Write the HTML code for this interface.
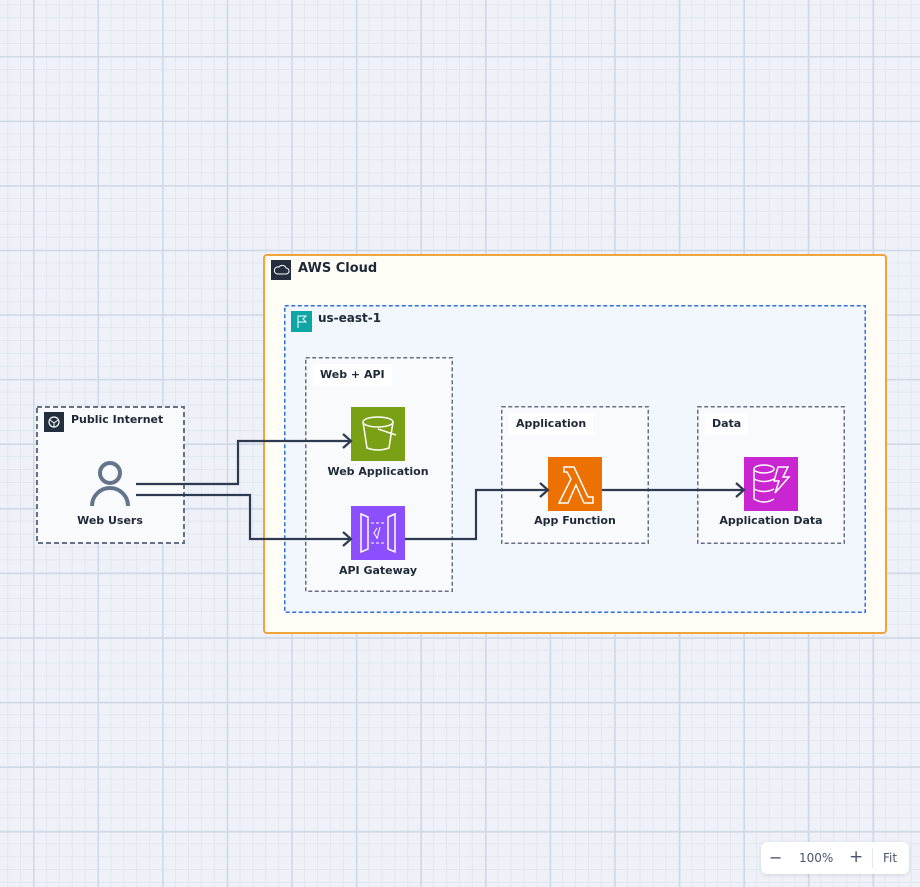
<!DOCTYPE html>
<html><head><meta charset="utf-8"><style>
*{margin:0;padding:0;box-sizing:border-box}
body{width:920px;height:887px;overflow:hidden;position:relative;font-family:"DejaVu Sans","Liberation Sans",sans-serif;font-weight:bold;color:#1f2937;
background-color:#eef2f8;
background-image:
linear-gradient(to right,#cfd8e5 1.6px,transparent 1.6px),
linear-gradient(to bottom,#cfd8e5 1.6px,transparent 1.6px),
linear-gradient(to right,#e1e7f0 1px,transparent 1px),
linear-gradient(to bottom,#e1e7f0 1px,transparent 1px);
background-size:64.6px 64.6px,64.6px 64.6px,12.92px 12.92px,12.92px 12.92px;
background-position:33px 56px,33px 56px,33px 56px,33px 56px;}
.a{position:absolute}
.t{position:absolute;font-size:11px;white-space:nowrap;line-height:1}
.c{transform:translateX(-50%)}
.lbl{position:absolute;background:#fff;height:22px;padding:0 7px;font-size:11px;line-height:22px}
</style></head><body>
<div class="a" style="left:263px;top:254px;width:624px;height:380px;border:2px solid #f2a33a;border-radius:4px;background:#fffdf6"></div>
<svg class="a" style="left:0;top:0" width="920" height="887">
<rect x="284.75" y="305.75" width="580.5" height="306.5" fill="#f2f7fe" stroke="#2f6fdb" stroke-width="1.5" stroke-dasharray="4 2.5"/>
<rect x="305.75" y="357.75" width="146.5" height="233.5" fill="#f8fafc" stroke="#667085" stroke-width="1.5" stroke-dasharray="4 2.5"/>
<rect x="501.75" y="406.75" width="146.5" height="136.5" fill="#f8fafc" stroke="#667085" stroke-width="1.5" stroke-dasharray="4 2.5"/>
<rect x="697.75" y="406.75" width="146.5" height="136.5" fill="#f8fafc" stroke="#667085" stroke-width="1.5" stroke-dasharray="4 2.5"/>
<rect x="37" y="407" width="147" height="136" fill="#f8fafc" stroke="#667085" stroke-width="2" stroke-dasharray="5 3"/>
</svg>
<div class="a" style="left:271px;top:260px;width:20px;height:20px;background:#232f3e"></div>
<svg class="a" style="left:271px;top:260px" width="20" height="20"><path d="M6 14h9a3 3 0 0 0 0-6 4 4 0 0 0-7-1 3.5 3.5 0 0 0-2 7z" fill="none" stroke="#fff" stroke-width="1"/></svg>
<div class="t" style="left:298px;top:262px;font-size:13px">AWS Cloud</div>

<div class="a" style="left:291px;top:311px;width:21px;height:21px;background:#0ea5a5"></div>
<svg class="a" style="left:291px;top:311px" width="21" height="21"><path d="M7 17V5h8l-3 3 3 3H7" fill="none" stroke="#fff" stroke-width="1"/></svg>
<div class="t" style="left:318px;top:312px;font-size:12px">us-east-1</div>

<div class="lbl" style="left:313px;top:364px">Web + API</div>
<div class="lbl" style="left:509px;top:413px">Application</div>
<div class="lbl" style="left:705px;top:413px">Data</div>
<div class="a" style="left:44px;top:412px;width:20px;height:20px;background:#232f3e"></div>
<svg class="a" style="left:44px;top:412px" width="20" height="20"><circle cx="10" cy="10" r="5" fill="none" stroke="#fff" stroke-width="1.2"/><path d="M6 8l4 3 4-3M10 11v4" stroke="#fff" stroke-width="1" fill="none"/></svg>
<div class="t" style="left:71px;top:414px">Public Internet</div>

<svg class="a" style="left:88px;top:458px" width="44" height="50"><circle cx="22" cy="15" r="10" fill="none" stroke="#64748b" stroke-width="4"/><path d="M4 48a18 18 0 0 1 36 0" fill="none" stroke="#64748b" stroke-width="4"/></svg>
<div class="t c" style="left:110px;top:515px">Web Users</div>

<div class="a" style="left:351px;top:407px;width:54px;height:54px;background:#7aa116"></div>
<svg class="a" style="left:351px;top:407px" width="54" height="54"><ellipse cx="27" cy="15" rx="15" ry="5" fill="none" stroke="#fff" stroke-width="1.5"/><path d="M12 15l4 26q11 4 22 0l4-26" fill="none" stroke="#fff" stroke-width="1.5"/><path d="M27 22l18 6" stroke="#fff" stroke-width="1.5"/></svg>
<div class="t c" style="left:378px;top:466px">Web Application</div>

<div class="a" style="left:351px;top:506px;width:54px;height:54px;background:#8c4fff"></div>
<svg class="a" style="left:351px;top:506px" width="54" height="54"><path d="M10 8l7 3v32l-7 3zM44 8l-7 3v32l7 3z" fill="none" stroke="#fff" stroke-width="1.5"/><path d="M20 17h14M20 37h14" stroke="#fff" stroke-dasharray="3 2"/><path d="M26 22l-3 5 3 5M29 21l-3 12" stroke="#fff" fill="none"/></svg>
<div class="t c" style="left:378px;top:565px">API Gateway</div>

<div class="a" style="left:548px;top:457px;width:54px;height:54px;background:#ed7100"></div>
<svg class="a" style="left:548px;top:457px" width="54" height="54"><path d="M16 10h10l14 30h5v6H36L28 28l-8 18H11l12-24-4-7h-3z" fill="none" stroke="#fff" stroke-width="1.5"/></svg>
<div class="t c" style="left:575px;top:515px">App Function</div>

<div class="a" style="left:744px;top:457px;width:54px;height:54px;background:#c925d1"></div>
<svg class="a" style="left:744px;top:457px" width="54" height="54"><ellipse cx="20" cy="12" rx="10" ry="4" fill="none" stroke="#fff" stroke-width="1.5"/><path d="M10 12v30q10 6 20 0M10 22q10 5 20 0M10 32q10 5 20 0M10 42" fill="none" stroke="#fff" stroke-width="1.5"/><path d="M34 10h10l-5 10h6l-14 16 4-12h-5z" fill="none" stroke="#fff" stroke-width="1.5"/></svg>
<div class="t c" style="left:771px;top:515px">Application Data</div>

<svg class="a" style="left:0;top:0" width="920" height="887" fill="none" stroke="#2d3a4f" stroke-width="2.2">
<path d="M136 484H238V441H350"/><path d="M343 434l8 7-8 7"/>
<path d="M136 495H250V539H350"/><path d="M343 532l8 7-8 7"/>
<path d="M405 539H476V490H547"/><path d="M540 483l8 7-8 7"/>
<path d="M602 490H743"/><path d="M736 483l8 7-8 7"/>
</svg>

<div class="a" style="left:761px;top:842px;width:148px;height:32px;background:#fff;border-radius:6px;box-shadow:0 1px 4px rgba(0,0,0,.12)"></div>
<div class="t" style="left:769px;top:850px;font-size:16px;font-weight:normal;color:#475569">−</div>
<div class="t" style="left:799px;top:852px;font-size:12px;font-weight:normal;color:#475569">100%</div>
<div class="t" style="left:849px;top:849px;font-size:17px;font-weight:normal;color:#475569">+</div>
<div class="a" style="left:872px;top:848px;width:1px;height:20px;background:#e2e8f0"></div>
<div class="t" style="left:883px;top:852px;font-size:12px;font-weight:normal;color:#475569">Fit</div>
</body></html>
